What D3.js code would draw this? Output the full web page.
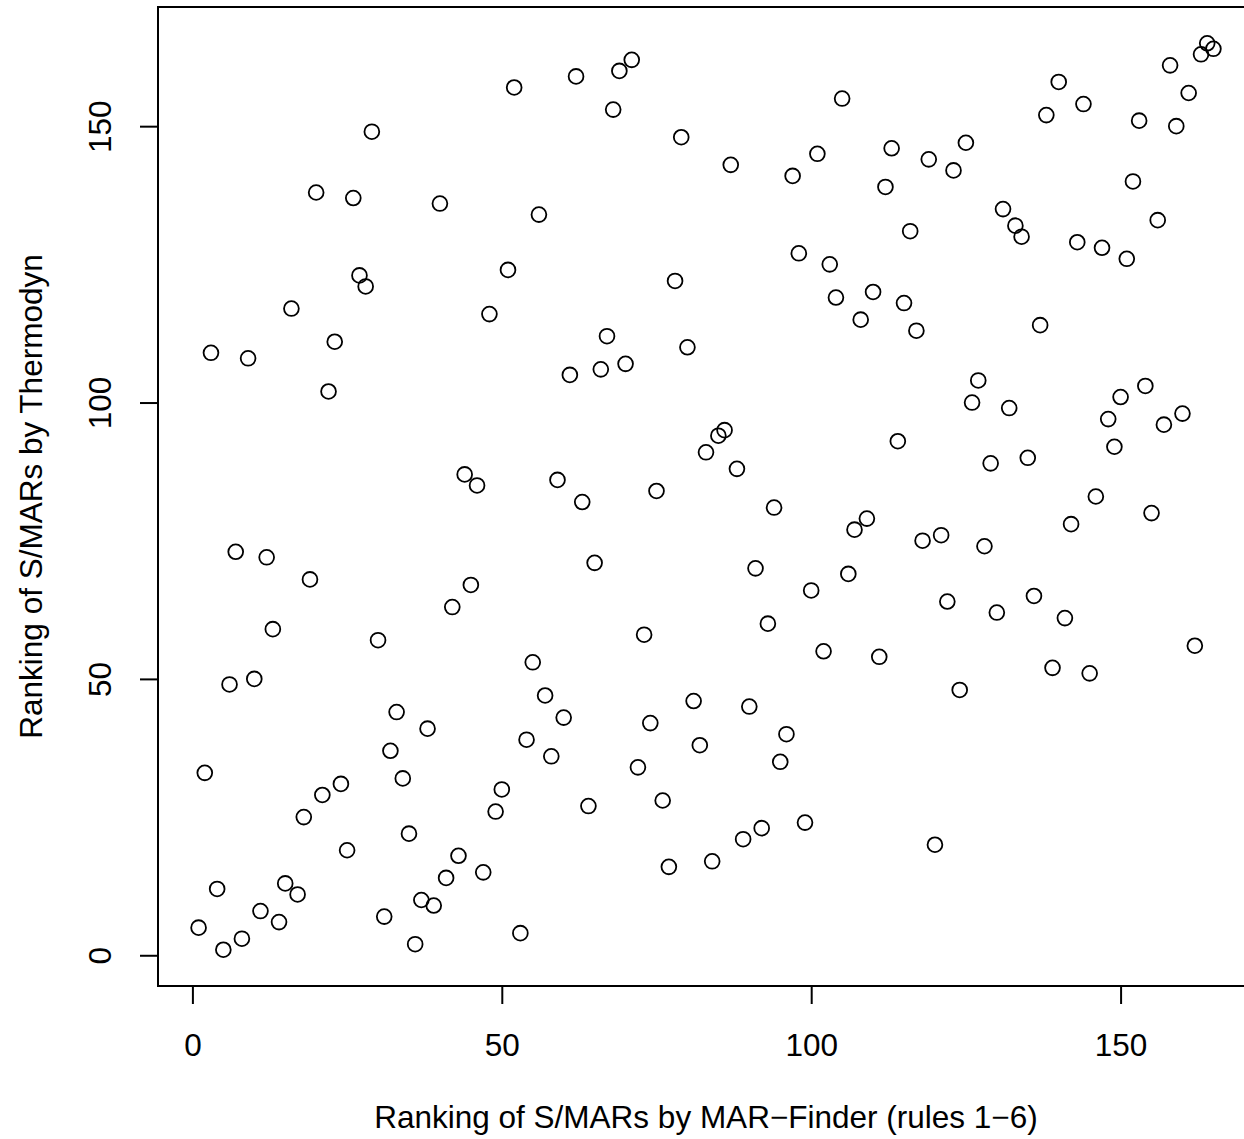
<!DOCTYPE html>
<html>
<head>
<meta charset="utf-8">
<script src="https://cdn.jsdelivr.net/npm/d3@7"></script>
<style>
  html, body { margin: 0; padding: 0; background: #fff; }
  svg { display: block; }
  text { font-family: "Liberation Sans", Arial, Helvetica, sans-serif; fill: #000; }
</style>
</head>
<body>
<script>
// Rank of each S/MAR under MAR-Finder (rules 1-6): 1..165
const marFinderRank = d3.range(1, 166);

// Rank of the same S/MAR under the thermodynamic method
const thermodynRank = [
  5, 33, 109, 12, 1, 49, 73, 3, 108, 50,
  8, 72, 59, 6, 13, 117, 11, 25, 68, 138,
  29, 102, 111, 31, 19, 137, 123, 121, 149, 57,
  7, 37, 44, 32, 22, 2, 10, 41, 9, 136,
  14, 63, 18, 87, 67, 85, 15, 116, 26, 30,
  124, 157, 4, 39, 53, 134, 47, 36, 86, 43,
  105, 159, 82, 27, 71, 106, 112, 153, 160, 107,
  162, 34, 58, 42, 84, 28, 16, 122, 148, 110,
  46, 38, 91, 17, 94, 95, 143, 88, 21, 45,
  70, 23, 60, 81, 35, 40, 141, 127, 24, 66,
  145, 55, 125, 119, 155, 69, 77, 115, 79, 120,
  54, 139, 146, 93, 118, 131, 113, 75, 144, 20,
  76, 64, 142, 48, 147, 100, 104, 74, 89, 62,
  135, 99, 132, 130, 90, 65, 114, 152, 52, 158,
  61, 78, 129, 154, 51, 83, 128, 97, 92, 101,
  126, 140, 151, 103, 80, 133, 96, 161, 150, 98,
  156, 56, 163, 165, 164
];

const xTicks = [0, 50, 100, 150];
const yTicks = [0, 50, 100, 150];

const xTitle = "Ranking of S/MARs by MAR\u2212Finder (rules 1\u22126)";
const yTitle = "Ranking of S/MARs by Thermodyn";

const W = 1244, H = 1139;
const plot = { left: 158, right: 1254, top: 7, bottom: 986 };
const fontSize = 31.5;

// axis limits padded by 4% on each side of the data range
function padded(values) {
  const [lo, hi] = d3.extent(values);
  const p = (hi - lo) * 0.04;
  return [lo - p, hi + p];
}

const x = d3.scaleLinear().domain(padded(marFinderRank)).range([plot.left, plot.right]);
const y = d3.scaleLinear().domain(padded(thermodynRank)).range([plot.bottom, plot.top]);

const svg = d3.select("body").append("svg")
  .attr("width", W).attr("height", H)
  .attr("viewBox", `0 0 ${W} ${H}`);

const points = marFinderRank.map((r, i) => ({ x: r, y: thermodynRank[i] }));

// open circles
svg.append("g")
  .selectAll("circle")
  .data(points)
  .join("circle")
  .attr("cx", d => x(d.x))
  .attr("cy", d => y(d.y))
  .attr("r", 7.4)
  .attr("fill", "none")
  .attr("stroke", "#000")
  .attr("stroke-width", 1.8);

// bottom axis
const gx = svg.append("g")
  .attr("transform", `translate(0,${plot.bottom})`)
  .call(d3.axisBottom(x).tickValues(xTicks).tickSize(18).tickPadding(30).tickFormat(d3.format("d")));
gx.select(".domain").remove();
gx.selectAll(".tick line").attr("stroke", "#000").attr("stroke-width", 2);
gx.selectAll(".tick text").attr("font-size", fontSize).attr("font-family", null);
gx.append("line")
  .attr("x1", x(xTicks[0])).attr("x2", x(xTicks[xTicks.length - 1]))
  .attr("stroke", "#000").attr("stroke-width", 2);

// left axis, labels parallel to the axis
const gy = svg.append("g")
  .attr("transform", `translate(${plot.left},0)`)
  .call(d3.axisLeft(y).tickValues(yTicks).tickSize(18).tickFormat(d3.format("d")));
gy.select(".domain").remove();
gy.selectAll(".tick line").attr("stroke", "#000").attr("stroke-width", 2);
gy.selectAll(".tick text")
  .attr("font-size", fontSize).attr("font-family", null)
  .attr("x", null).attr("dy", null)
  .attr("text-anchor", "middle")
  .attr("transform", "translate(-47,0) rotate(-90)");
gy.append("line")
  .attr("y1", y(yTicks[0])).attr("y2", y(yTicks[yTicks.length - 1]))
  .attr("stroke", "#000").attr("stroke-width", 2);

// plot frame
svg.append("rect")
  .attr("x", plot.left).attr("y", plot.top)
  .attr("width", plot.right - plot.left).attr("height", plot.bottom - plot.top)
  .attr("fill", "none").attr("stroke", "#000").attr("stroke-width", 2);

// axis titles
svg.append("text")
  .attr("x", (plot.left + plot.right) / 2).attr("y", 1128)
  .attr("text-anchor", "middle").attr("font-size", fontSize)
  .text(xTitle);

svg.append("text")
  .attr("transform", `translate(42,${(plot.top + plot.bottom) / 2}) rotate(-90)`)
  .attr("text-anchor", "middle").attr("font-size", fontSize)
  .text(yTitle);
</script>
</body>
</html>
